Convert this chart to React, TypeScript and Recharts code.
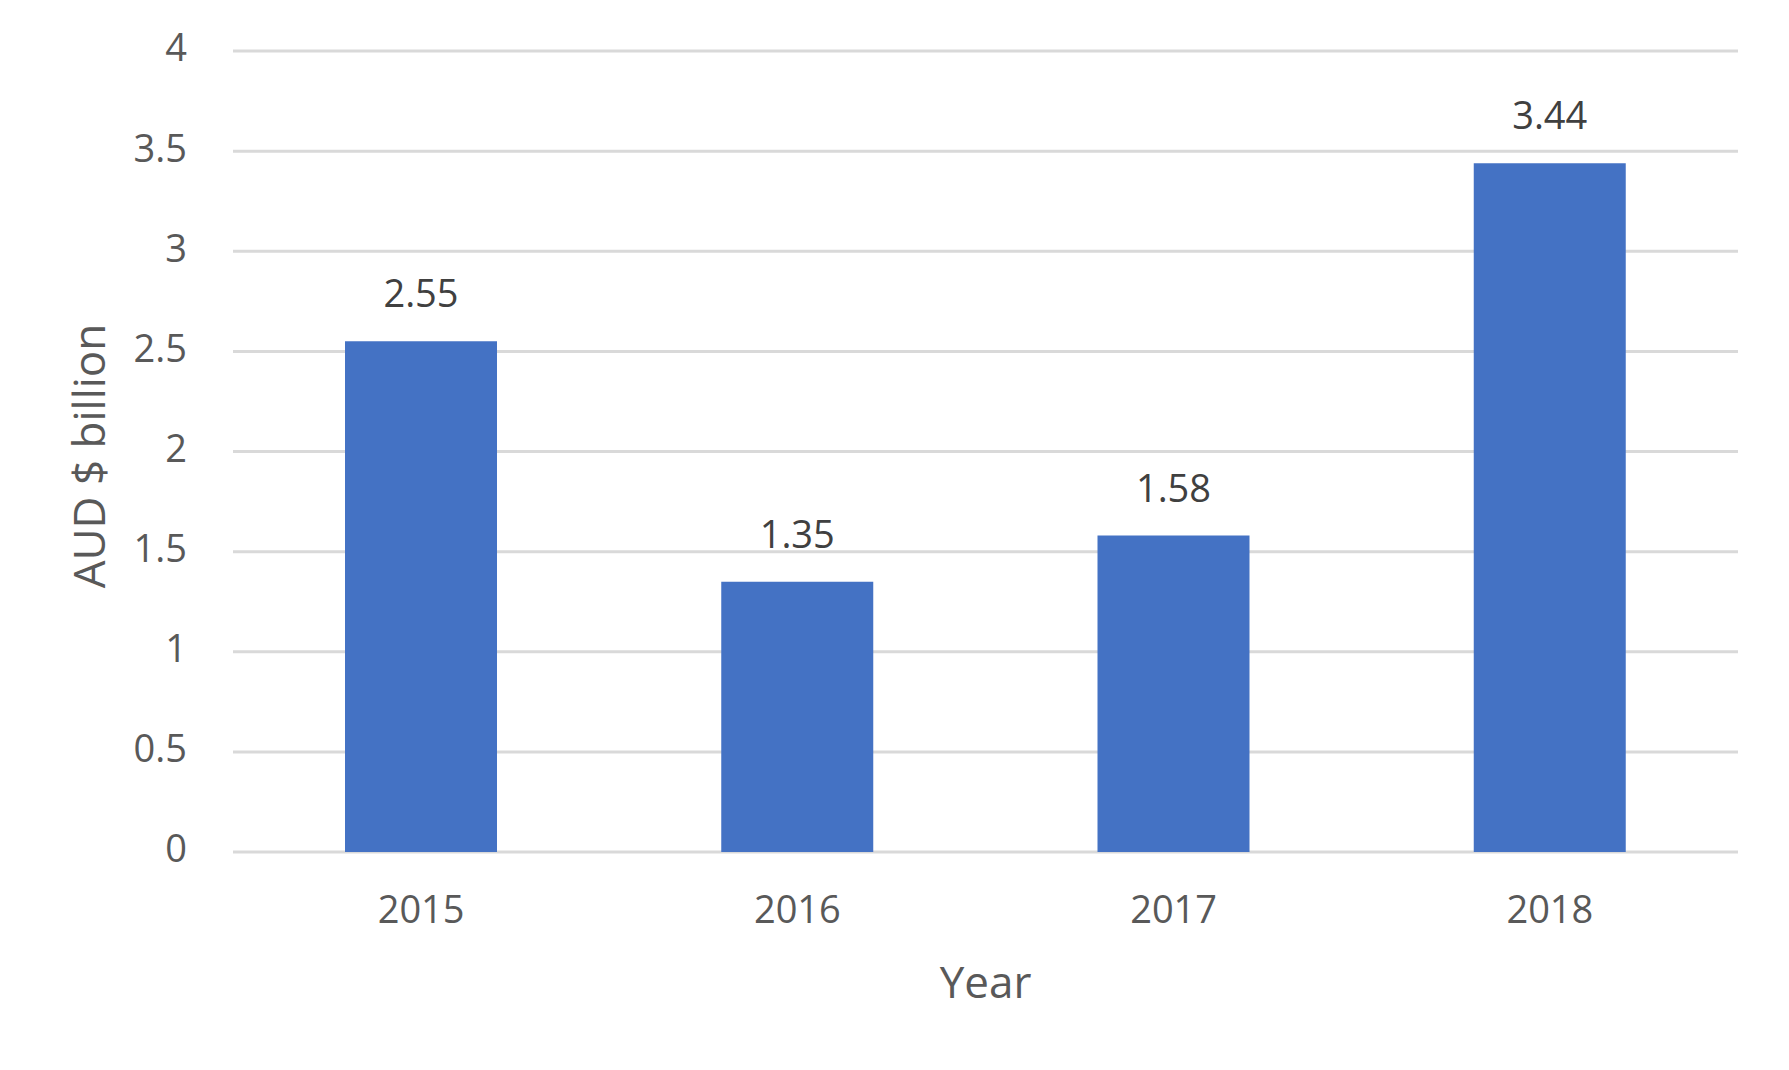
import React from "react";
import { BarChart, Bar, XAxis, YAxis, CartesianGrid, LabelList, Label } from "recharts";

const years = ["2015", "2016", "2017", "2018"];
const values = [2.55, 1.35, 1.58, 3.44];
const yTicks = [0, 0.5, 1, 1.5, 2, 2.5, 3, 3.5, 4];

const data = years.map((year, i) => ({ year, value: values[i] }));

const FONT = "'Open Sans', 'Noto Sans', sans-serif";

export default function App() {
  return (
    <div style={{ position: "absolute", left: 0, top: 0, background: "#fff" }}>
      <BarChart
        width={1789}
        height={1070}
        data={data}
        margin={{ top: 51, right: 51, left: 0, bottom: 0 }}
      >
        <CartesianGrid vertical={false} stroke="#D9D9D9" strokeWidth={3} />
        <XAxis
          dataKey="year"
          height={218}
          axisLine={false}
          tickLine={false}
          tickSize={0}
          tickMargin={44}
          tick={{ fill: "#595959", fontSize: 38, fontFamily: FONT }}
        >
          <Label
            value="Year"
            position="insideBottom"
            offset={72}
            fill="#595959"
            fontSize={44}
            fontFamily={FONT}
          />
        </XAxis>
        <YAxis
          width={233}
          domain={[0, 4]}
          ticks={yTicks}
          axisLine={false}
          tickLine={false}
          tickSize={0}
          tickMargin={46}
          tick={{ fill: "#595959", fontSize: 38, fontFamily: FONT, dy: -3 }}
        >
          <Label
            content={() => (
              <text
                transform="translate(105,456) rotate(-90)"
                textAnchor="middle"
                fill="#595959"
                fontSize={44}
                fontFamily={FONT}
              >
                AUD $ billion
              </text>
            )}
          />
        </YAxis>
        <Bar dataKey="value" fill="#4472C4" barSize={152} isAnimationActive={false}>
          <LabelList
            dataKey="value"
            position="top"
            offset={34}
            fill="#404040"
            fontSize={38}
            fontFamily={FONT}
          />
        </Bar>
      </BarChart>
    </div>
  );
}
